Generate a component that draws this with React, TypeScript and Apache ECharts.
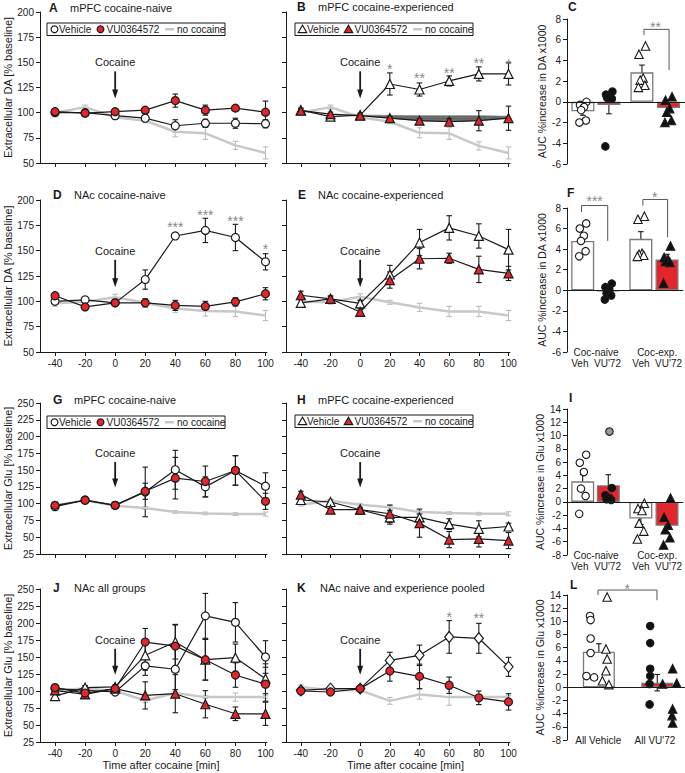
import React, { useEffect, useRef } from "react";
import * as echarts from "echarts";

const FONT = "'Liberation Sans', Arial, Helvetica, sans-serif";
const RED = "#e3262b";
const GRAY_LINE = "#c8c8c8";
const GRAY_ERR = "#bdbdbd";
const INK = "#1a1a1a";
const STAR = "#8a8a8a";

// ---------- time course data ----------
const times = [-40, -20, 0, 20, 40, 60, 80, 100];

// A  mPFC cocaine-naive (DA)
const aVeh = [100, 100, 97, 94.5, 87, 89.5, 89.5, 89];
const aVehErr = [1.5, 1.5, 3, 3, 6, 4, 5, 4];
const aVU = [101, 99.5, 101, 102.5, 112, 102.5, 104.5, 100.5];
const aVUErr = [1.5, 1.5, 1.5, 2, 6.5, 5, 2, 11];
const aNoc = [100, 105.5, 95.5, 92, 81, 79.5, 67.5, 60];
const aNocErr = [1, 2, 2, 2, 5, 6, 4, 6];

// B  mPFC cocaine-experienced (DA)
const bVeh = [102.5, 96, 97.5, 128.5, 123, 131.5, 138.5, 138.5];
const bVehErr = [2, 2, 2, 11, 6.5, 5, 7, 11];
const bVU = [102, 98.5, 97, 94.5, 92, 91, 92, 94.5];
const bVUErr = [2, 2, 1.5, 2, 2, 3, 10, 12];
const bNoc = [100, 105.5, 95.5, 91, 80, 79.5, 67, 60];
const bNocErr = [1, 2, 2, 2, 5, 6, 4, 6];
const bBandTimes = [0, 20, 40, 60, 80, 100];
const bBandLow = [97, 94.5, 92, 91, 92, 94.5];
const bBandHigh = [97.5, 97.3, 97, 97, 97, 96.5];
const bStarTimes = [20, 40, 60, 80, 100];
const bStarY = [147, 138, 143, 153, 152];
const bStarText = ["*", "**", "**", "**", "*"];

// D  NAc cocaine-naive (DA)
const dVeh = [100, 101.5, 98.5, 121.5, 164.5, 170, 163, 139];
const dVehErr = [2, 2, 2, 9.5, 3, 12, 13, 8];
const dVU = [105.5, 94.5, 98.5, 98.5, 96, 95, 99.5, 107.5];
const dVUErr = [2, 2, 2, 4, 5, 5, 4, 6];
const dNoc = [98, 99.5, 104, 98.5, 93, 90.5, 90, 86];
const dNocErr = [3, 2, 3, 2, 4, 5, 5, 5];
const dStarTimes = [40, 60, 80, 100];
const dStarY = [177.5, 189.5, 183.5, 155.5];
const dStarText = ["***", "***", "***", "*"];

// E  NAc cocaine-experienced (DA)
const eVeh = [98.5, 102.5, 98, 126.5, 158, 172.5, 164.5, 151];
const eVehErr = [3, 2, 3, 9, 13, 12, 12, 20];
const eVU = [106, 102.5, 89.5, 121, 142, 142.5, 131.5, 127.5];
const eVUErr = [4, 3, 3, 8, 10, 5, 13, 7];
const eNoc = [99.5, 99, 104.5, 99, 94, 90, 90, 86];
const eNocErr = [3, 2, 3, 2, 4, 5, 5, 5];

// G  mPFC cocaine-naive (Glu)
const gVeh = [95.5, 105.5, 97.5, 117.5, 150.5, 125, 149.5, 126];
const gVehErr = [3, 3, 2, 37, 29, 15, 22, 20];
const gVU = [97.5, 105, 97.5, 118.5, 138, 133, 149.5, 103.5];
const gVUErr = [3, 3, 2, 12, 31, 23, 22, 12];
const gNoc = [97, 105, 97, 93.5, 87.5, 85.5, 84.5, 84.5];
const gNocErr = [2, 2, 2, 2, 2, 2, 2, 3];

// H  mPFC cocaine-experienced (Glu)
const hVeh = [105.5, 102.5, 91, 79.5, 79.5, 69.5, 62.5, 66];
const hVehErr = [4, 3, 3, 10, 5, 8, 12, 5];
const hVU = [113.5, 91, 91, 85, 71, 46.5, 47.5, 45];
const hVUErr = [5, 2, 2, 13, 21, 12, 12, 12];
const hNoc = [98.5, 104.5, 98.5, 94.5, 87.5, 86, 85, 85];
const hNocErr = [2, 2, 2, 3, 2, 2, 2, 3];

// J  NAc all groups (Glu)
const jVehNaive = [103.5, 101, 98.5, 137, 132, 210.5, 201, 150];
const jVehNaiveErr = [3, 2, 3, 14, 30, 33, 29, 24];
const jVUNaive = [105, 97, 103.5, 172, 166, 146, 123.5, 110];
const jVUNaiveErr = [3, 3, 3, 20, 32, 30, 18, 25];
const jVehExp = [92.5, 105, 106, 152.5, 172, 146, 149, 118];
const jVehExpErr = [3, 3, 3, 22, 25, 30, 20, 22];
const jVUExp = [101, 95, 103.5, 93.5, 96, 80.5, 66.5, 66.5];
const jVUExpErr = [3, 3, 3, 20, 28, 20, 10, 17];
const jNoc = [100, 104, 100, 86, 97, 91, 91, 91];
const jNocErr = [2, 2, 2, 3, 2, 2, 6, 2];

// K  NAc naive and experience pooled (Glu)
const kVeh = [101, 103.5, 103.5, 145, 152.5, 179.5, 177.5, 135.5];
const kVehErr = [2, 2, 2, 12, 15, 24, 22, 14];
const kVU = [100, 98.5, 103.5, 129.5, 121.5, 108.5, 90, 84];
const kVUErr = [3, 2, 2, 15, 18, 12, 10, 12];
const kNoc = [106, 101, 101, 85.5, 95, 91, 91, 91];
const kNocErr = [3, 2, 2, 5, 7, 12, 2, 2];
const kStarTimes = [60, 80];
const kStarY = [214, 213];
const kStarText = ["*", "**"];

// Cocaine annotation: [label, arrow start, arrow tip]
const cocaineDA = [150, 141, 114];
const cocaineGlu = [175, 162, 124];

// ---------- AUC data ----------
const pairPos = [0.27, 0.71, 1.27, 1.72];
const pairFills = ["#ffffff", RED, "#ffffff", RED];
const jit = [0.06, -0.05, 0.02, -0.03, 0.05, -0.06];

// C
const cMeans = [-0.9, -0.3, 2.85, -0.6];
const cErr = [0.4, 0.85, 0.7, 0.3];
const cVehN = [0, -0.3, -0.5, -0.8, -1.8, -2.0];
const cVUN = [1.0, 0.7, 0.5, 0.4, 0.3, -4.3];
const cVehE = [5.4, 4.6, 2.3, 2.1, 1.6, 1.4];
const cVUE = [0.5, 0.15, -0.65, -1.0, -1.8, -2.0];

// F
const fMeans = [4.8, -0.1, 5.0, 3.0];
const fErr = [0.4, 0.25, 0.7, 0.5];
const fVehN = [6.5, 6.0, 5.3, 4.8, 3.8, 3.3];
const fVUN = [0.65, 0.3, 0.0, -0.3, -0.5, -0.9];
const fVehE = [7.2, 6.9, 3.6, 3.5, 3.4, 3.3];
const fVUE = [4.3, 3.2, 3.0, 2.8, 2.7, 0.7];

// I
const iMeans = [3.1, 2.5, -2.5, -3.6];
const iErr = [1.0, 1.6, 0.9, 1.0];
const iVehN = [7.1, 5.9, 4.5, 2.0, 0.9, -1.8];
const iVUN = [2.1, 1.0, 0.6, 0.4, 0.3];
const iVUNGray = [10.6];
const iVehE = [-0.2, -1.0, -1.3, -3.2, -4.4, -5.6];
const iVUE = [0.6, -2.3, -3.5, -4.2, -5.4, -6.5];

// L
const lPos = [0.54, 1.53];
const lMeans = [5.4, 0.7];
const lErr = [1.2, 1.25];
const lVehCirc = [10.8, 10.2, 7.4, 5.2, 1.7, 1.5];
const lVehCircOff = [-0.15, -0.14, -0.14, -0.14, -0.21, -0.08];
const lVehTri = [13.7, 5.8, 4.3, 2.5, 1.0, 0.4];
const lVehTriOff = [0.14, 0.12, 0.14, 0.12, 0.06, 0.17];
const lVUCirc = [9.3, 6.7, 2.8, 1.7, 0.5, -2.6];
const lVUCircOff = [-0.12, -0.12, -0.12, -0.12, -0.13, -0.13];
const lVUTri = [2.8, 0.6, 0.5, -3.3, -4.3, -5.4];
const lVUTriOff = [0.26, 0.33, 0.09, 0.26, 0.25, 0.26];

// ---------- helpers ----------
const tstyle = (text: string, size: number, fill = INK, bold = false, align = "left") => ({
  text,
  fill,
  font: `${bold ? "bold " : ""}${size}px ${FONT}`,
  textAlign: align,
  textVerticalAlign: "middle",
  align,
  verticalAlign: "middle",
});

const STAR_SIZE = 14;
const STAR_SHIFT = 4;

function buildOption() {
  const grid: any[] = [];
  const xAxis: any[] = [];
  const yAxis: any[] = [];
  const series: any[] = [];
  const graphic: any[] = [];

  const gtext = (text: string, x: number, y: number, size: number, bold = false) =>
    graphic.push({ type: "text", x, y, silent: true, style: tstyle(text, size, INK, bold) });

  const linePanel = (rect: any, kind: "DA" | "Glu", showY: boolean, showX: boolean, showName: boolean) => {
    const gi = grid.length;
    grid.push({ ...rect });
    xAxis.push({
      type: "value",
      gridIndex: gi,
      min: -50,
      max: 101,
      axisLine: { show: true, onZero: false, lineStyle: { color: INK, width: 1 } },
      axisTick: { show: true, customValues: times, length: 4, lineStyle: { color: INK } },
      axisLabel: { show: showX, customValues: times, fontSize: 10, color: INK, fontFamily: FONT, margin: 6 },
      splitLine: { show: false },
      name: showName ? "Time after cocaine [min]" : "",
      nameLocation: "middle",
      nameGap: 17,
      nameTextStyle: { fontSize: 11, color: INK, fontFamily: FONT, padding: [0, 0, 0, 15] },
    });
    const r = kind === "DA" ? { min: 50, max: 200 } : { min: 25, max: 250 };
    yAxis.push({
      type: "value",
      gridIndex: gi,
      ...r,
      interval: 25,
      axisLine: { show: true, onZero: false, lineStyle: { color: INK, width: 1 } },
      axisTick: { show: true, length: 4, lineStyle: { color: INK } },
      axisLabel: { show: showY, fontSize: 10, color: INK, fontFamily: FONT, margin: 6 },
      splitLine: { show: false },
      name: showY ? (kind === "DA" ? "Extracellular DA [% baseline]" : "Extracellular Glu [% baseline]") : "",
      nameLocation: "middle",
      nameGap: 26,
      nameTextStyle: { fontSize: 11, color: INK, fontFamily: FONT },
    });
    return gi;
  };

  const errSeries = (gi: number, xs: number[], ys: number[], es: number[], color: string, cap = 2.8) => ({
    type: "custom",
    xAxisIndex: gi,
    yAxisIndex: gi,
    silent: true,
    clip: false,
    data: xs.map((x, i) => [x, ys[i], es[i]]),
    encode: { x: 0, y: 1 },
    renderItem: (params: any, api: any) => {
      const x = api.value(0);
      const m = api.value(1);
      const e = api.value(2);
      const p1 = api.coord([x, m + e]);
      const p2 = api.coord([x, m - e]);
      const style = { stroke: color, lineWidth: 1.1 };
      return {
        type: "group",
        children: [
          { type: "line", shape: { x1: p1[0], y1: p1[1], x2: p2[0], y2: p2[1] }, style },
          { type: "line", shape: { x1: p1[0] - cap, y1: p1[1], x2: p1[0] + cap, y2: p1[1] }, style },
          { type: "line", shape: { x1: p2[0] - cap, y1: p2[1], x2: p2[0] + cap, y2: p2[1] }, style },
        ],
      };
    },
  });

  const lineSeries = (gi: number, ys: number[], symbol: string, fill: string, size = 8) => ({
    type: "line",
    xAxisIndex: gi,
    yAxisIndex: gi,
    silent: true,
    data: times.map((t, i) => [t, ys[i]]),
    symbol,
    symbolSize: symbol === "diamond" ? [9, 11] : size,
    showSymbol: true,
    itemStyle: { color: fill, borderColor: INK, borderWidth: 1.2 },
    lineStyle: { color: INK, width: 1.2 },
  });

  const grayLine = (gi: number, ys: number[]) => ({
    type: "line",
    xAxisIndex: gi,
    yAxisIndex: gi,
    silent: true,
    data: times.map((t, i) => [t, ys[i]]),
    symbol: "none",
    lineStyle: { color: GRAY_LINE, width: 2.5 },
  });

  const textSeries = (gi: number, xs: number[], ys: number[], labels: string[], color: string, size: number) => ({
    type: "custom",
    xAxisIndex: gi,
    yAxisIndex: gi,
    silent: true,
    clip: false,
    data: xs.map((x, i) => [x, ys[i]]),
    encode: { x: 0, y: 1 },
    renderItem: (params: any, api: any) => {
      const p = api.coord([api.value(0), api.value(1)]);
      return { type: "text", x: p[0], y: p[1] + STAR_SHIFT, style: tstyle(labels[params.dataIndex], size, color, false, "center") };
    },
  });

  const cocaineSeries = (gi: number, vals: number[]) => ({
    type: "custom",
    xAxisIndex: gi,
    yAxisIndex: gi,
    silent: true,
    clip: false,
    data: [[0, vals[0], vals[1], vals[2]]],
    encode: { x: 0, y: 1 },
    renderItem: (params: any, api: any) => {
      const t = api.coord([0, api.value(1)]);
      const a1 = api.coord([0, api.value(2)]);
      const a2 = api.coord([0, api.value(3)]);
      return {
        type: "group",
        children: [
          { type: "text", x: t[0], y: t[1], style: tstyle("Cocaine", 11, INK, false, "center") },
          { type: "line", shape: { x1: a1[0], y1: a1[1], x2: a2[0], y2: a2[1] - 7 }, style: { stroke: INK, lineWidth: 1.8 } },
          {
            type: "polygon",
            shape: { points: [[a2[0] - 3, a2[1] - 9], [a2[0] + 3, a2[1] - 9], [a2[0], a2[1]]] },
            style: { fill: INK },
          },
        ],
      };
    },
  });

  const bandSeries = (gi: number, xs: number[], lo: number[], hi: number[], color: string) => ({
    type: "custom",
    xAxisIndex: gi,
    yAxisIndex: gi,
    silent: true,
    data: xs.map((x, i) => [x, lo[i], hi[i]]),
    encode: { x: 0, y: 1 },
    renderItem: (params: any, api: any) => {
      const i = params.dataIndex;
      if (i >= xs.length - 1) return { type: "group", children: [] };
      const pts = [
        api.coord([xs[i], lo[i]]),
        api.coord([xs[i + 1], lo[i + 1]]),
        api.coord([xs[i + 1], hi[i + 1]]),
        api.coord([xs[i], hi[i]]),
      ];
      return { type: "polygon", shape: { points: pts }, style: { fill: color, stroke: color, lineWidth: 0.6 } };
    },
  });

  const legend = (x: number, y: number, marker: "circle" | "triangle") => {
    const h = 12.5;
    const w = 178;
    const cy = y + h / 2;
    graphic.push({ type: "rect", silent: true, shape: { x, y, width: w, height: h }, style: { fill: "#fff", stroke: INK, lineWidth: 1 } });
    const mk = (cx: number, fill: string) =>
      marker === "circle"
        ? { type: "circle", silent: true, shape: { cx, cy, r: 3.4 }, style: { fill, stroke: INK, lineWidth: 1.2 } }
        : {
            type: "polygon",
            silent: true,
            shape: { points: [[cx, cy - 4], [cx + 4.2, cy + 3.3], [cx - 4.2, cy + 3.3]] },
            style: { fill, stroke: INK, lineWidth: 1.2 },
          };
    graphic.push(mk(x + 7.5, "#fff"));
    graphic.push({ type: "text", x: x + 12, y: cy, silent: true, style: tstyle("Vehicle", 10) });
    graphic.push(mk(x + 53.5, RED));
    graphic.push({ type: "text", x: x + 59.5, y: cy, silent: true, style: tstyle("VU0364572", 10) });
    graphic.push({ type: "line", silent: true, shape: { x1: x + 118, y1: cy, x2: x + 127, y2: cy }, style: { stroke: GRAY_LINE, lineWidth: 2.5 } });
    graphic.push({ type: "text", x: x + 130, y: cy, silent: true, style: tstyle("no cocaine", 10) });
  };

  // ---------- bar panels ----------
  const barPanel = (
    rect: any,
    range: { min: number; max: number },
    yName: string,
    labelPos: number[],
    labels: string[],
  ) => {
    const gi = grid.length;
    grid.push({ ...rect });
    xAxis.push({
      type: "value",
      gridIndex: gi,
      min: 0,
      max: 2,
      axisLine: { show: false, onZero: false },
      axisTick: { show: false },
      splitLine: { show: false },
      axisLabel: {
        show: labels.length > 0,
        customValues: labelPos,
        formatter: (v: number) => (v < 1 ? labels[0] : labels[1]),
        fontSize: 10,
        lineHeight: 11,
        color: INK,
        fontFamily: FONT,
        margin: -5,
      },
    });
    yAxis.push({
      type: "value",
      gridIndex: gi,
      ...range,
      interval: 2,
      axisLine: { show: true, onZero: false, lineStyle: { color: INK, width: 1 } },
      axisTick: { show: true, length: 4, lineStyle: { color: INK } },
      axisLabel: { fontSize: 10, color: INK, fontFamily: FONT, margin: 6 },
      splitLine: { show: false },
      name: yName,
      nameLocation: "middle",
      nameGap: 20,
      nameTextStyle: { fontSize: 10.5, color: INK, fontFamily: FONT },
    });
    return gi;
  };

  const bars = (gi: number, pos: number[], means: number[], fills: string[], width: number) => ({
    type: "bar",
    xAxisIndex: gi,
    yAxisIndex: gi,
    silent: true,
    barWidth: width,
    data: pos.map((x, i) => ({ value: [x, means[i]], itemStyle: { color: fills[i], borderColor: "#7a7a7a", borderWidth: 1.3 } })),
    markLine: {
      silent: true,
      symbol: "none",
      label: { show: false },
      lineStyle: { color: INK, width: 1, type: "solid" },
      data: [{ yAxis: 0 }],
    },
  });

  const points = (gi: number, center: number, vals: number[], offs: number[], symbol: string, fill: string) => ({
    type: "scatter",
    xAxisIndex: gi,
    yAxisIndex: gi,
    silent: true,
    symbol,
    symbolSize: symbol === "triangle" ? 8.5 : 7.5,
    data: vals.map((v, i) => [center + offs[i % offs.length], v]),
    itemStyle: { color: fill, borderColor: INK, borderWidth: 1.1, opacity: 1 },
    z: 4,
  });

  const bracket = (gi: number, rows: number[][], starLabels: string[], starPos: number[][]) => ({
    type: "custom",
    xAxisIndex: gi,
    yAxisIndex: gi,
    silent: true,
    clip: false,
    z: 5,
    data: rows,
    encode: { x: 0, y: 2 },
    renderItem: (params: any, api: any) => {
      const r = rows[params.dataIndex];
      const pts = [api.coord([r[0], r[3]]), api.coord([r[0], r[2]]), api.coord([r[1], r[2]]), api.coord([r[1], r[4]])];
      const s = api.coord(starPos[params.dataIndex]);
      return {
        type: "group",
        children: [
          { type: "polyline", shape: { points: pts }, style: { stroke: "#555", lineWidth: 1, fill: null } },
          { type: "text", x: s[0], y: s[1] + STAR_SHIFT, style: tstyle(starLabels[params.dataIndex], STAR_SIZE, STAR, false, "center") },
        ],
      };
    },
  });

  // ===== A =====
  const A = linePanel({ left: 40, top: 12, width: 227, height: 151 }, "DA", true, false, false);
  series.push(errSeries(A, times, aNoc, aNocErr, GRAY_ERR), grayLine(A, aNoc));
  series.push(errSeries(A, times, aVeh, aVehErr, INK), errSeries(A, times, aVU, aVUErr, INK));
  series.push(lineSeries(A, aVeh, "circle", "#fff"), lineSeries(A, aVU, "circle", RED));
  series.push(cocaineSeries(A, cocaineDA));
  legend(47, 23, "circle");

  // ===== B =====
  const B = linePanel({ left: 286, top: 12, width: 224, height: 151 }, "DA", false, false, false);
  series.push(errSeries(B, times, bNoc, bNocErr, GRAY_ERR), grayLine(B, bNoc));
  series.push(bandSeries(B, bBandTimes, bBandLow, bBandHigh, "#6a6a6a"));
  series.push(errSeries(B, times, bVeh, bVehErr, INK), errSeries(B, times, bVU, bVUErr, INK));
  series.push(lineSeries(B, bVeh, "triangle", "#fff", 9), lineSeries(B, bVU, "triangle", RED, 9));
  series.push(cocaineSeries(B, cocaineDA));
  series.push(textSeries(B, bStarTimes, bStarY, bStarText, STAR, STAR_SIZE));
  legend(295, 23, "triangle");

  // ===== C =====
  const C = barPanel({ left: 567, top: 19, width: 118, height: 145 }, { min: -6, max: 8 }, "AUC %increase in DA x1000", [], []);
  series.push(bars(C, pairPos, cMeans, pairFills, 23));
  series.push(errSeries(C, pairPos, cMeans, cErr, INK));
  series.push(points(C, pairPos[0], cVehN, jit, "circle", "#fff"));
  series.push(points(C, pairPos[1], cVUN, jit, "circle", "#111"));
  series.push(points(C, pairPos[2], cVehE, jit, "triangle", "#fff"));
  series.push(points(C, pairPos[3], cVUE, jit, "triangle", "#111"));
  series.push(bracket(C, [[1.305, 1.73, 7.0, 6.45, 3.06]], ["**"], [[1.5, 7.6]]));

  // ===== D =====
  const D = linePanel({ left: 40, top: 200, width: 227, height: 152 }, "DA", true, true, false);
  series.push(errSeries(D, times, dNoc, dNocErr, GRAY_ERR), grayLine(D, dNoc));
  series.push(errSeries(D, times, dVeh, dVehErr, INK), errSeries(D, times, dVU, dVUErr, INK));
  series.push(lineSeries(D, dVeh, "circle", "#fff"), lineSeries(D, dVU, "circle", RED));
  series.push(cocaineSeries(D, cocaineDA));
  series.push(textSeries(D, dStarTimes, dStarY, dStarText, STAR, STAR_SIZE));

  // ===== E =====
  const E = linePanel({ left: 286, top: 200, width: 224, height: 152 }, "DA", false, true, false);
  series.push(errSeries(E, times, eNoc, eNocErr, GRAY_ERR), grayLine(E, eNoc));
  series.push(errSeries(E, times, eVeh, eVehErr, INK), errSeries(E, times, eVU, eVUErr, INK));
  series.push(lineSeries(E, eVeh, "triangle", "#fff", 9), lineSeries(E, eVU, "triangle", RED, 9));
  series.push(cocaineSeries(E, cocaineDA));

  // ===== F =====
  const F = barPanel(
    { left: 567, top: 208, width: 118, height: 144 },
    { min: -6, max: 8 },
    "AUC %increase in DA x1000",
    [0.5, 1.55],
    ["Coc-naive\nVeh  VU'72", "Coc-exp.\nVeh  VU'72"],
  );
  series.push(bars(F, pairPos, fMeans, pairFills, 23));
  series.push(errSeries(F, pairPos, fMeans, fErr, INK));
  series.push(points(F, pairPos[0], fVehN, jit, "circle", "#fff"));
  series.push(points(F, pairPos[1], fVUN, jit, "circle", "#111"));
  series.push(points(F, pairPos[2], fVehE, jit, "triangle", "#fff"));
  series.push(points(F, pairPos[3], fVUE, jit, "triangle", "#111"));
  series.push(
    bracket(
      F,
      [
        [0.25, 0.7, 8.24, 7.6, 4.8],
        [1.305, 1.73, 8.83, 8.24, 5.15],
      ],
      ["***", "*"],
      [
        [0.475, 9.05],
        [1.51, 9.5],
      ],
    ),
  );

  // ===== G =====
  const Gp = linePanel({ left: 40, top: 403, width: 227, height: 151 }, "Glu", true, false, false);
  series.push(errSeries(Gp, times, gNoc, gNocErr, GRAY_ERR), grayLine(Gp, gNoc));
  series.push(errSeries(Gp, times, gVeh, gVehErr, INK), errSeries(Gp, times, gVU, gVUErr, INK));
  series.push(lineSeries(Gp, gVeh, "circle", "#fff"), lineSeries(Gp, gVU, "circle", RED));
  series.push(cocaineSeries(Gp, cocaineGlu));
  legend(47, 416, "circle");

  // ===== H =====
  const H = linePanel({ left: 286, top: 403, width: 224, height: 151 }, "Glu", false, false, false);
  series.push(errSeries(H, times, hNoc, hNocErr, GRAY_ERR), grayLine(H, hNoc));
  series.push(errSeries(H, times, hVeh, hVehErr, INK), errSeries(H, times, hVU, hVUErr, INK));
  series.push(lineSeries(H, hVeh, "triangle", "#fff", 9), lineSeries(H, hVU, "triangle", RED, 9));
  series.push(cocaineSeries(H, cocaineGlu));
  legend(295, 415, "triangle");

  // ===== I =====
  const I = barPanel(
    { left: 567, top: 409, width: 118, height: 146 },
    { min: -8, max: 14 },
    "AUC %increase in Glu x1000",
    [0.5, 1.55],
    ["Coc-naive\nVeh  VU'72", "Coc-exp.\nVeh  VU'72"],
  );
  series.push(bars(I, pairPos, iMeans, pairFills, 23));
  series.push(errSeries(I, pairPos, iMeans, iErr, INK));
  series.push(points(I, pairPos[0], iVehN, jit, "circle", "#fff"));
  series.push(points(I, pairPos[1], iVUN, jit, "circle", "#111"));
  series.push(points(I, pairPos[1], iVUNGray, [0.02], "circle", "#9a9a9a"));
  series.push(points(I, pairPos[2], iVehE, jit, "triangle", "#fff"));
  series.push(points(I, pairPos[3], iVUE, jit, "triangle", "#111"));

  // ===== J =====
  const J = linePanel({ left: 40, top: 589, width: 227, height: 153 }, "Glu", true, true, true);
  series.push(errSeries(J, times, jNoc, jNocErr, GRAY_ERR), grayLine(J, jNoc));
  series.push(
    errSeries(J, times, jVehNaive, jVehNaiveErr, INK),
    errSeries(J, times, jVehExp, jVehExpErr, INK),
    errSeries(J, times, jVUExp, jVUExpErr, INK),
    errSeries(J, times, jVUNaive, jVUNaiveErr, INK),
  );
  series.push(
    lineSeries(J, jVehNaive, "circle", "#fff"),
    lineSeries(J, jVehExp, "triangle", "#fff", 9),
    lineSeries(J, jVUExp, "triangle", RED, 9),
    lineSeries(J, jVUNaive, "circle", RED),
  );
  series.push(cocaineSeries(J, cocaineGlu));

  // ===== K =====
  const K = linePanel({ left: 286, top: 589, width: 224, height: 153 }, "Glu", false, true, true);
  series.push(errSeries(K, times, kNoc, kNocErr, GRAY_ERR), grayLine(K, kNoc));
  series.push(errSeries(K, times, kVeh, kVehErr, INK), errSeries(K, times, kVU, kVUErr, INK));
  series.push(lineSeries(K, kVeh, "diamond", "#fff"), lineSeries(K, kVU, "circle", RED));
  series.push(cocaineSeries(K, cocaineGlu));
  series.push(textSeries(K, kStarTimes, kStarY, kStarText, STAR, STAR_SIZE));

  // ===== L =====
  const L = barPanel(
    { left: 567, top: 595, width: 118, height: 145 },
    { min: -8, max: 14 },
    "AUC %increase in Glu x1000",
    [0.53, 1.49],
    ["All Vehicle", "All VU'72"],
  );
  series.push(bars(L, lPos, lMeans, ["#ffffff", RED], 32));
  series.push(errSeries(L, lPos, lMeans, lErr, INK));
  series.push(points(L, lPos[0], lVehCirc, lVehCircOff, "circle", "#fff"));
  series.push(points(L, lPos[0], lVehTri, lVehTriOff, "triangle", "#fff"));
  series.push(points(L, lPos[1], lVUCirc, lVUCircOff, "circle", "#111"));
  series.push(points(L, lPos[1], lVUTri, lVUTriOff, "triangle", "#111"));
  series.push(bracket(L, [[0.525, 1.525, 14.75, 14.0, 13.2]], ["*"], [[1.02, 15.5]]));

  // ---------- panel letters & titles ----------
  const titles: [string, number, number, string, number][] = [
    ["A", 49, 8, "mPFC cocaine-naive", 70],
    ["B", 297, 7, "mPFC cocaine-experienced", 318],
    ["C", 568, 7, "", 0],
    ["D", 53, 195, "NAc cocaine-naive", 74],
    ["E", 298, 195, "NAc cocaine-experienced", 318],
    ["F", 567, 193, "", 0],
    ["G", 53, 400, "mPFC cocaine-naive", 74],
    ["H", 297, 400, "mPFC cocaine-experienced", 318],
    ["I", 569, 398, "", 0],
    ["J", 53, 588, "NAc all groups", 74],
    ["K", 297, 588, "NAc naive and experience pooled", 320],
    ["L", 570, 585, "", 0],
  ];
  titles.forEach(([letter, lx, ly, title, tx]) => {
    gtext(letter, lx, ly, 12, true);
    if (title) gtext(title, tx, ly, 11);
  });

  return {
    animation: false,
    backgroundColor: "#ffffff",
    textStyle: { fontFamily: FONT },
    grid,
    xAxis,
    yAxis,
    series,
    graphic,
  };
}

export default function App() {
  const ref = useRef<HTMLDivElement>(null);
  useEffect(() => {
    document.body.style.margin = "0";
    const chart = echarts.init(ref.current as HTMLDivElement, null, { renderer: "svg" });
    chart.setOption(buildOption() as any);
    return () => chart.dispose();
  }, []);
  return <div ref={ref} style={{ width: 685, height: 773, background: "#fff" }} />;
}
